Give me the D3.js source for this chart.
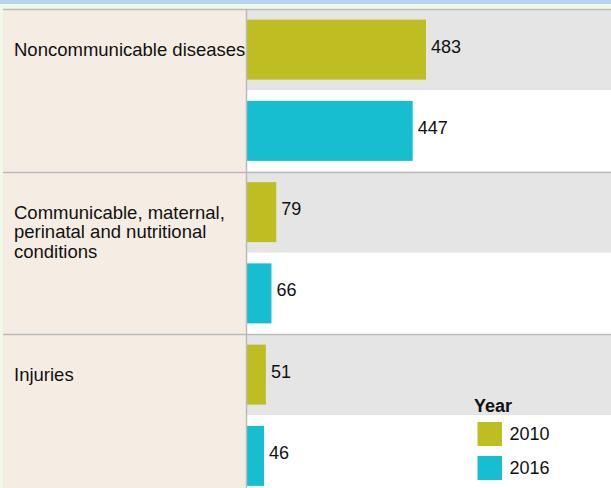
<!DOCTYPE html>
<html>
<head>
<meta charset="utf-8">
<script src="https://cdn.jsdelivr.net/npm/d3@7"></script>
<style>
  body { margin: 0; background: #eefae6; }
  svg { display: block; font-family: "Liberation Sans", Arial, sans-serif; }
</style>
</head>
<body>
<svg id="chart" width="611" height="488"></svg>
<script>
// chart data
const categories = ['Noncommunicable diseases', 'Communicable, maternal, perinatal and nutritional conditions', 'Injuries'];
const labelLines = [['Noncommunicable diseases'], ['Communicable, maternal,', 'perinatal and nutritional', 'conditions'], ['Injuries']];
const years = ['2010', '2016'];
const values2010 = [483, 79, 51];
const values2016 = [447, 66, 46];
const colors = ['#bebe22', '#17becf'];

const svg = d3.select('#chart');
const width = 611, height = 488;
const topY = 9, panelLeft = 3, plotLeft = 247;

// top blue strip
svg.append('rect').attr('x', 0).attr('y', 0).attr('width', width).attr('height', 4).attr('fill', '#b8d3f1');

// group band and inner row band
const groupH = 162.5;
let y = d3.scaleBand().domain(categories).range([topY, topY + groupH * categories.length]);
let yInner = d3.scaleBand().domain(years).range([0, y.bandwidth()]);
let x = d3.scaleLinear().domain([0, 483]).range([plotLeft, 426]);

// label panel
svg.append('rect')
    .attr('x', panelLeft).attr('y', topY)
    .attr('width', plotLeft - panelLeft).attr('height', height - topY)
    .attr('fill', '#f5ede3');

// flatten rows
let rows = [];
categories.forEach((c, i) => {
    rows.push({ cat: c, year: years[0], value: values2010[i], color: colors[0] });
    rows.push({ cat: c, year: years[1], value: values2016[i], color: colors[1] });
});

// row backgrounds
svg.append('g').selectAll('rect')
    .data(rows).enter().append('rect')
    .attr('x', plotLeft).attr('width', width - plotLeft)
    .attr('y', d => y(d.cat) + yInner(d.year))
    .attr('height', yInner.bandwidth())
    .attr('fill', d => d.year === years[0] ? '#e5e5e5' : '#ffffff');

// bars
const barH = 60;
const barOff = (yInner.bandwidth() - barH) / 2;
svg.append('g').selectAll('rect')
    .data(rows).enter().append('rect')
    .attr('x', x(0))
    .attr('y', d => y(d.cat) + yInner(d.year) + barOff)
    .attr('width', d => x(d.value) - x(0))
    .attr('height', barH)
    .attr('fill', d => d.color);

// value labels (sit a little above the bar middle)
svg.append('g').selectAll('text')
    .data(rows).enter().append('text')
    .attr('x', d => x(d.value) + 5)
    .attr('y', d => y(d.cat) + yInner(d.year) + yInner.bandwidth() / 2)
    .attr('dy', '0.17em')
    .attr('font-size', 18)
    .attr('fill', '#111')
    .text(d => d.value);

// group separators
svg.append('g').selectAll('line')
    .data(categories).enter().append('line')
    .attr('x1', panelLeft).attr('x2', width)
    .attr('y1', d => Math.round(y(d)) + 0.5).attr('y2', d => Math.round(y(d)) + 0.5)
    .attr('stroke', '#bbbbbb').attr('stroke-width', 1.5);

// panel right border
svg.append('line')
    .attr('x1', plotLeft - 0.5).attr('x2', plotLeft - 0.5)
    .attr('y1', topY).attr('y2', height)
    .attr('stroke', '#bbbbbb').attr('stroke-width', 1.5);

// category labels
let labels = svg.append('g').selectAll('text')
    .data(categories).enter().append('text')
    .attr('x', 14)
    .attr('y', d => y(d) + yInner.bandwidth() / 2)
    .attr('font-size', 18.5)
    .attr('fill', '#111');
labels.each(function(d, i) {
    d3.select(this).selectAll('tspan')
        .data(labelLines[i]).enter().append('tspan')
        .attr('x', 14)
        .attr('dy', (t, j) => j === 0 ? '0.35em' : '1.07em')
        .text(t => t);
});

// legend
let legend = svg.append('g').attr('transform', 'translate(474,0)');
legend.append('text')
    .attr('x', 0).attr('y', 412)
    .attr('font-size', 18).attr('font-weight', 'bold')
    .attr('fill', '#111')
    .text('Year');
let items = legend.selectAll('g.item')
    .data(years).enter().append('g')
    .attr('class', 'item')
    .attr('transform', (d, i) => `translate(3.5,${422 + i * 34})`);
items.append('rect').attr('width', 24.5).attr('height', 24).attr('fill', (d, i) => colors[i]);
items.append('text')
    .attr('x', 32).attr('y', 12).attr('dy', '0.35em')
    .attr('font-size', 18).attr('fill', '#111')
    .text(d => d);
</script>
</body>
</html>
